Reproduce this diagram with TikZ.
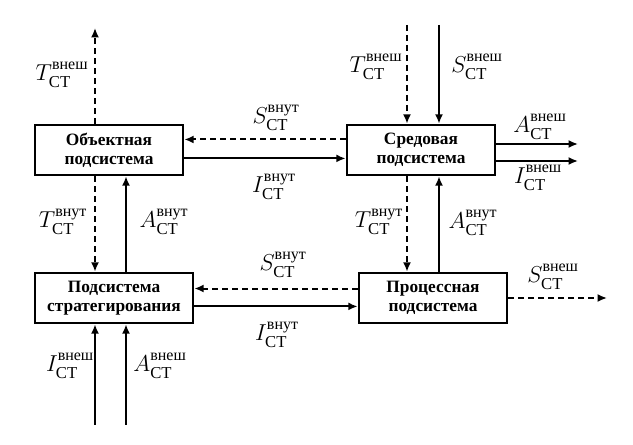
\documentclass[tikz,border=0pt]{standalone}
\usepackage{amsmath}
\usepackage{fontspec}
\setmainfont{Liberation Serif}
\usetikzlibrary{arrows.meta, calc}
\newcommand{\sig}[3]{$#1^{\raisebox{1.5pt}{\fontsize{12}{12}\selectfont #2}}_{\raisebox{-1.5pt}{\fontsize{12.5}{12.5}\selectfont #3}}$}

\begin{document}
\begin{tikzpicture}[
            x=0.75pt, y=-0.75pt,
            >={Latex[length=7pt, width=6pt]},
            % boxes: thick frame, bold two-line caption
            sub/.style  ={draw, line width=2pt, fill=white, align=center,
                          inner sep=0pt, minimum height=37.5pt,
                          font=\fontsize{13}{14}\selectfont\bfseries},
            flow/.style ={line width=1.5pt},
            dflow/.style={line width=1.5pt, dash pattern=on 4.5pt off 3pt},
            lbl/.style  ={font=\fontsize{17}{19}\selectfont, inner sep=0pt}
        ]
        \useasboundingbox (0,0) rectangle (633,445);

        %% ===== four subsystems =====
        \node[sub, minimum width=111pt]   (obj)  at (109,150)   {Объектная\\подсистема};
        \node[sub, minimum width=111pt]   (env)  at (421,150)   {Средовая\\подсистема};
        \node[sub, minimum width=118.5pt] (strat) at (114,298)  {Подсистема\\стратегирования};
        \node[sub, minimum width=111pt]   (proc) at (433,298)   {Процессная\\подсистема};

        %% free ends of the external flows
        \coordinate (objT)   at (95,28);
        \coordinate (envT)   at (407,25);
        \coordinate (envS)   at (439,25);
        \coordinate (envA)   at (578,144);
        \coordinate (envI)   at (578,161);
        \coordinate (procS)  at (607,298);
        \coordinate (stratI) at (95,425);
        \coordinate (stratA) at (126,425);

        %% ===== external flows =====
        \draw[dflow,->] (objT |- obj.north) -- (objT);
        \draw[dflow,->] (envT) -- (envT |- env.north);
        \draw[flow,->]  (envS) -- (envS |- env.north);
        \draw[flow,->]  (env.east |- envA) -- (envA);
        \draw[flow,->]  (env.east |- envI) -- (envI);
        \draw[dflow,->] (proc.east |- procS) -- (procS);
        \draw[flow,->]  (stratI) -- (stratI |- strat.south);
        \draw[flow,->]  (stratA) -- (stratA |- strat.south);

        %% ===== internal flows =====
        % top pair
        \draw[dflow,->] ($(env.north west)!0.3!(env.south west)$) coordinate (s1)
            -- (s1 -| obj.east);
        \draw[flow,->]  ($(obj.north east)!0.66!(obj.south east)$) coordinate (i1)
            -- (i1 -| env.west);
        % bottom pair
        \draw[dflow,->] ($(proc.north west)!0.32!(proc.south west)$) coordinate (s2)
            -- (s2 -| strat.east);
        \draw[flow,->]  ($(strat.north east)!0.66!(strat.south east)$) coordinate (i2)
            -- (i2 -| proc.west);
        % left column
        \draw[dflow,->] (objT |- obj.south) -- (objT |- strat.north);
        \draw[flow,->]  (stratA |- strat.north) -- (stratA |- obj.south);
        % right column
        \draw[dflow,->] (envT |- env.south) -- (envT |- proc.north);
        \draw[flow,->]  (envS |- proc.north) -- (envS |- env.south);

        %% ===== labels =====
        \node[lbl] (lTo)  at (62,75)    {\sig{T}{внеш}{СТ}};
        \node[lbl] (lTe)  at (376,67)   {\sig{T}{внеш}{СТ}};
        \node[lbl] (lSe)  at (477,67)   {\sig{S}{внеш}{СТ}};
        \node[lbl] (lAe)  at (540,127)  {\sig{A}{внеш}{СТ}};
        \node[lbl] (lIe)  at (538,178)  {\sig{I}{внеш}{СТ}};
        \node[lbl] (lS1)  at (276,118)  {\sig{S}{внут}{СТ}};
        \node[lbl] (lI1)  at (274,187)  {\sig{I}{внут}{СТ}};
        \node[lbl] (lT1)  at (63,222)   {\sig{T}{внут}{СТ}};
        \node[lbl] (lA1)  at (164,222)  {\sig{A}{внут}{СТ}};
        \node[lbl] (lT2)  at (379,222)  {\sig{T}{внут}{СТ}};
        \node[lbl] (lA2)  at (473,223)  {\sig{A}{внут}{СТ}};
        \node[lbl] (lS2)  at (283,265)  {\sig{S}{внут}{СТ}};
        \node[lbl] (lI2)  at (277,335)  {\sig{I}{внут}{СТ}};
        \node[lbl] (lSp)  at (553,277)  {\sig{S}{внеш}{СТ}};
        \node[lbl] (lIs)  at (70,366)   {\sig{I}{внеш}{СТ}};
        \node[lbl] (lAs)  at (160,366)  {\sig{A}{внеш}{СТ}};

    \end{tikzpicture}
\end{document}
